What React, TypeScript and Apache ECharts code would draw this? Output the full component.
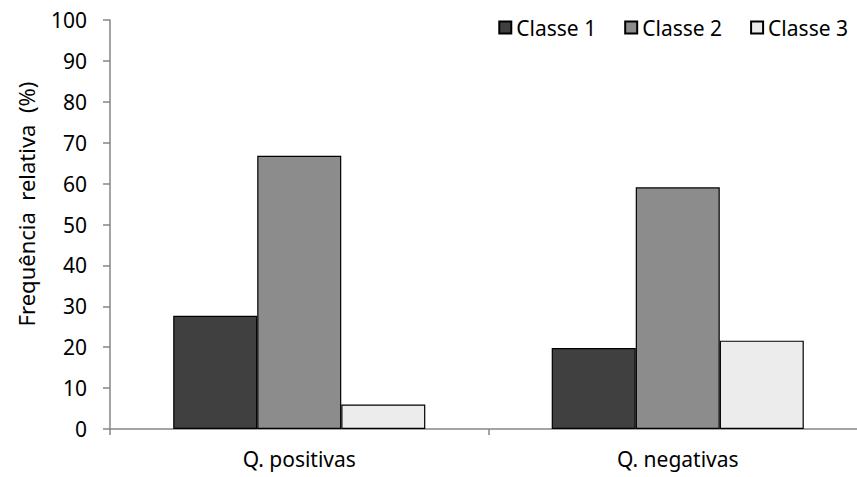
import React, { useEffect, useRef } from "react";
import * as echarts from "echarts";

const categories = ["Q. positivas", "Q. negativas"];
const seriesNames = ["Classe 1", "Classe 2", "Classe 3"];
const classe1 = [27.7, 19.8];
const classe2 = [66.8, 59.1];
const classe3 = [6.0, 21.6];
const yTicks = [0, 10, 20, 30, 40, 50, 60, 70, 80, 90, 100];

const FONT = "'Noto Sans', 'Open Sans', sans-serif";
const fills = ["#404040", "#8c8c8c", "#ececec"];
const AXIS = "#868686";

// the plot area runs a little past the right edge of the visible page
const CHART_W = 867;
const CHART_H = 477;

export default function App() {
  const ref = useRef<HTMLDivElement>(null);

  useEffect(() => {
    if (!ref.current) return;
    const chart = echarts.init(ref.current, undefined, { renderer: "svg" });
    const values = [classe1, classe2, classe3];
    chart.setOption({
      animation: false,
      backgroundColor: "#ffffff",
      textStyle: { fontFamily: FONT },
      legend: {
        data: seriesNames,
        right: 14,
        top: 12,
        itemWidth: 12,
        itemHeight: 12,
        itemGap: 28,
        icon: "rect",
        textStyle: { fontSize: 21, color: "#000", fontFamily: FONT },
      },
      graphic: [
        {
          type: "text",
          x: 26,
          y: 204,
          rotation: Math.PI / 2,
          style: {
            text: "Frequência  relativa  (%)",
            font: `22px ${FONT}`,
            fill: "#000",
            textAlign: "center",
            textVerticalAlign: "middle",
          },
        },
      ],
      grid: { left: 110, right: 0, top: 20, bottom: 48, containLabel: false },
      xAxis: {
        type: "category",
        data: categories,
        axisLine: { lineStyle: { color: AXIS, width: 1.5 } },
        axisTick: { show: true, length: 6, lineStyle: { color: AXIS, width: 1.5 } },
        axisLabel: { fontSize: 21, color: "#000", margin: 19, fontFamily: FONT },
        splitLine: { show: false },
      },
      yAxis: {
        type: "value",
        min: yTicks[0],
        max: yTicks[yTicks.length - 1],
        interval: 10,
        axisLine: { show: true, lineStyle: { color: AXIS, width: 1.5 } },
        axisTick: { show: true, length: 7, lineStyle: { color: AXIS, width: 1.5 } },
        axisLabel: { fontSize: 21, color: "#000", margin: 23, fontFamily: FONT },
        splitLine: { show: false },
      },
      series: seriesNames.map((name, i) => ({
        name,
        type: "bar",
        data: values[i],
        barGap: "0%",
        barCategoryGap: "33.4%",
        itemStyle: { color: fills[i], borderColor: "#000", borderWidth: 1.2 },
      })),
    });
    return () => chart.dispose();
  }, []);

  return (
    <div
      ref={ref}
      style={{ position: "fixed", left: 0, top: 0, width: CHART_W, height: CHART_H }}
    />
  );
}
